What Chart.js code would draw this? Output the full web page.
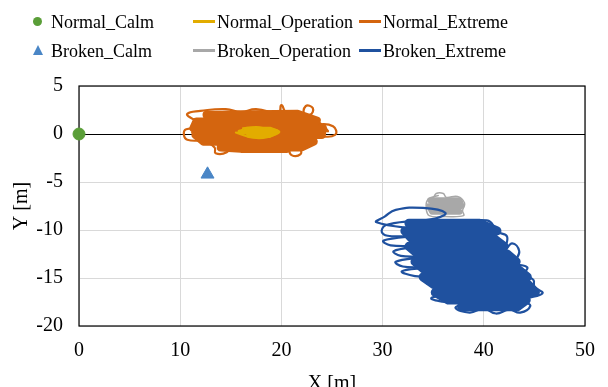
<!DOCTYPE html>
<html>
<head>
<meta charset="utf-8">
<script src="https://cdn.jsdelivr.net/npm/chart.js@4/dist/chart.umd.min.js"></script>
<style>
  html, body { margin: 0; padding: 0; background: #fff; overflow: hidden; }
  #wrap { position: relative; width: 608px; height: 387px; overflow: hidden; }
  #myChart { position: absolute; left: 0; top: 0; }
  .lg { position: absolute; font-family: 'Liberation Serif', 'Times New Roman', serif; font-size: 18px; color: #000; line-height: 1; transform: translateY(-50%); white-space: nowrap; }
  .mk { position: absolute; }
</style>
</head>
<body>
<div id="wrap">
  <canvas id="myChart" width="608" height="400"></canvas>
  <div id="legend"></div>
</div>
<script>
// series names / legend
const seriesNames = ['Normal_Calm', 'Normal_Operation', 'Normal_Extreme', 'Broken_Calm', 'Broken_Operation', 'Broken_Extreme'];
const xTicks = [0, 10, 20, 30, 40, 50];
const yTicks = [-20, -15, -10, -5, 0, 5];

// calm positions (single points)
const normalCalm = [[0, 0]];
const brokenCalm = [[12.7, -4.2]];

// Normal_Operation track (small yellow cluster)
const normalOpCore = [[15.9,0.2],[19.5,0.25],[18.9,0.5],[16.6,0.5],[16.8,-0.15],[18.8,-0.15],[19.3,0.1],[16.1,0.25]];
const normalOpLoops = [[16.2,0.6],[17.5,0.72],[18.4,0.58],[19.8,0.25],[18.6,-0.35],[17.2,-0.4],[15.5,0.15]];

// Normal_Extreme track (orange)
const normalExtCore = [[12.6,2.0],[21.6,2.1],[23.5,1.4],[11.6,1.3],[11.3,0.6],[24.1,0.6],[24.0,-0.1],[11.5,-0.1],
  [12.3,-0.8],[23.2,-0.8],[22.0,-1.4],[14.0,-1.4],[16.0,-1.55],[20.5,-1.55]];
const normalExtLoops = [[14.0,0.5],[10.6,0.5],[10.7,-0.6],[13.0,-0.3],[11.2,0.2],[12.4,-0.7],[13.4,-1.4],
  [13.5,-2.0],[14.6,-1.9],[15.0,-1.2],[18.0,-1.7],[20.5,-1.3],[21.0,-2.2],[21.9,-2.1],[22.0,-1.3],[23.5,-0.4],
  [25.3,-0.1],[25.1,0.8],[23.6,0.9],[24.6,0.3],[23.2,1.6],[22.3,1.9],[22.4,2.9],[23.1,2.7],[22.8,2.0],[20.6,2.1],
  [20.0,3.0],[19.7,2.2],[17.5,2.6],[16.0,2.3],[14.5,2.6],[12.0,2.4],[10.7,2.1],[11.2,1.6],[13.0,1.0]];

// Broken_Operation track (grey)
const brokenOpCore = [[34.7,-6.9],[37.6,-6.9],[37.8,-7.5],[34.6,-7.5],[34.9,-8.1],[37.6,-8.1]];
const brokenOpLoops = [[35.0,-6.7],[35.3,-6.2],[36.0,-6.2],[36.3,-6.6],[37.4,-6.5],[38.1,-7.2],[37.9,-8.0],
  [38.0,-8.5],[36.2,-8.6],[34.6,-8.5],[34.3,-7.6],[34.5,-6.8],[35.5,-6.4]];

// Broken_Extreme track (blue)
const brokenExtCore = [[32.6,-9.3],[39.6,-9.3],[41.3,-10.1],[32.2,-10.1],[32.9,-10.9],[41.0,-10.9],[42.0,-11.7],
  [32.6,-11.7],[33.5,-12.5],[42.3,-12.5],[43.2,-13.3],[33.2,-13.3],[34.1,-14.1],[43.4,-14.1],[44.3,-14.9],
  [34.0,-14.9],[35.1,-15.7],[44.4,-15.7],[45.1,-16.5],[35.2,-16.5],[36.5,-17.3],[44.2,-17.3],[43.3,-18.0],[37.8,-18.0]];
const brokenExtLoops = [[34.0,-10.0],[29.4,-9.2],[30.2,-8.6],[31.3,-7.9],[34.0,-7.7],[36.2,-8.2],[35.2,-8.8],
  [30.6,-9.4],[29.9,-10.1],[30.5,-10.6],[33.2,-10.6],[30.1,-11.1],[30.8,-11.6],[33.5,-11.7],[31.1,-12.2],[31.8,-12.7],
  [33.9,-12.8],[31.3,-13.3],[32.0,-13.8],[34.2,-13.9],[31.9,-14.3],[33.2,-14.8],[35.2,-14.9],[34.3,-15.5],
  [35.6,-15.9],[35.2,-16.3],[36.6,-16.6],[34.8,-17.1],[36.2,-17.5],[38.2,-17.6],[37.2,-18.1],[38.6,-18.6],
  [40.0,-18.2],[41.2,-18.7],[42.5,-18.3],[43.6,-18.6],[44.6,-17.9],[44.0,-17.3],[45.8,-16.6],[45.0,-15.9],
  [44.9,-15.2],[44.0,-14.6],[44.3,-13.9],[43.2,-13.4],[43.5,-12.2],[42.8,-11.4],[42.1,-12.1],[42.3,-10.7],
  [41.4,-10.2],[40.3,-9.0],[36.0,-9.6]];

const colors = {
  normalCalm: '#5a9e38',
  brokenCalm: '#4a86c6',
  normalOp: '#e2ac00',
  normalExt: '#d4650f',
  brokenOp: '#a8a8a8',
  brokenExt: '#1f519f'
};

const pts = arr => arr.map(p => ({ x: p[0], y: p[1] }));

const track = (data, color, width, tension, order) => ({
  data: pts(data),
  showLine: true,
  borderColor: color,
  borderWidth: width,
  borderJoinStyle: 'round',
  borderCapStyle: 'round',
  tension: tension,
  pointRadius: 0,
  order: order
});

// legend drawn as html (3 columns x 2 rows)
const legend = document.getElementById('legend');
const legendItems = [
  { name: seriesNames[0], kind: 'circle', color: colors.normalCalm, x: 33, y: 21 },
  { name: seriesNames[1], kind: 'line', color: colors.normalOp, x: 193, y: 21 },
  { name: seriesNames[2], kind: 'line', color: colors.normalExt, x: 359, y: 21 },
  { name: seriesNames[3], kind: 'tri', color: colors.brokenCalm, x: 33, y: 50 },
  { name: seriesNames[4], kind: 'line', color: colors.brokenOp, x: 193, y: 50 },
  { name: seriesNames[5], kind: 'line', color: colors.brokenExt, x: 359, y: 50 }
];
legendItems.forEach(it => {
  const m = document.createElement('div');
  m.className = 'mk';
  let textX;
  if (it.kind === 'circle') {
    Object.assign(m.style, { left: it.x + 'px', top: (it.y - 4) + 'px', width: '9px', height: '9px', borderRadius: '50%', background: it.color });
    textX = 51;
  } else if (it.kind === 'tri') {
    Object.assign(m.style, { left: it.x + 'px', top: (it.y - 5) + 'px', width: 0, height: 0,
      borderLeft: '5px solid transparent', borderRight: '5px solid transparent', borderBottom: '10px solid ' + it.color });
    textX = 51;
  } else {
    Object.assign(m.style, { left: it.x + 'px', top: (it.y - 1) + 'px', width: '22px', height: '2.5px', background: it.color });
    textX = it.x + 24;
  }
  legend.appendChild(m);
  const t = document.createElement('div');
  t.className = 'lg';
  t.style.left = textX + 'px';
  t.style.top = (it.y + 1) + 'px';
  t.textContent = it.name;
  legend.appendChild(t);
});

const boxPlugin = {
  id: 'box',
  beforeDatasetsDraw(chart) {
    const { ctx, chartArea: a } = chart;
    ctx.save();
    ctx.strokeStyle = '#000';
    ctx.lineWidth = 1.2;
    ctx.strokeRect(a.left, a.top, a.right - a.left, a.bottom - a.top);
    ctx.restore();
  }
};

Chart.defaults.font.family = "'Liberation Serif', 'Times New Roman', serif";
Chart.defaults.font.size = 20;
Chart.defaults.color = '#000';

const ctx = document.getElementById('myChart');

new Chart(ctx, {
  type: 'scatter',
  data: {
    datasets: [
      { label: seriesNames[0], data: pts(normalCalm), pointStyle: 'circle', pointRadius: 6, backgroundColor: colors.normalCalm, borderColor: colors.normalCalm, clip: false, order: 0 },
      { label: seriesNames[3], data: pts(brokenCalm), pointStyle: 'triangle', pointRadius: 7.5, backgroundColor: colors.brokenCalm, borderColor: colors.brokenCalm, clip: false, order: 0 },
      track(normalOpCore, colors.normalOp, 5, 0, 1),
      track(normalOpLoops, colors.normalOp, 2, 0.4, 1),
      track(brokenExtCore, colors.brokenExt, 9, 0, 1),
      track(brokenExtLoops, colors.brokenExt, 2.2, 0.45, 1),
      track(normalExtCore, colors.normalExt, 8, 0, 2),
      track(normalExtLoops, colors.normalExt, 2.2, 0.5, 2),
      track(brokenOpCore, colors.brokenOp, 6, 0, 2),
      track(brokenOpLoops, colors.brokenOp, 1.5, 0.4, 2)
    ]
  },
  options: {
    responsive: false,
    animation: false,
    layout: { padding: { top: 86, right: 13, left: 0, bottom: 0 } },
    plugins: {
      legend: { display: false },
      tooltip: { enabled: false }
    },
    scales: {
      x: {
        min: 0, max: 50,
        afterBuildTicks: s => { s.ticks = xTicks.map(v => ({ value: v })); },
        afterFit: s => { s.height = 74; },
        ticks: { padding: 13, maxRotation: 0 },
        grid: { color: '#d9d9d9', lineWidth: 1, drawTicks: false },
        border: { display: false },
        title: { display: true, text: 'X [m]', padding: { top: 0, bottom: 4 } }
      },
      y: {
        min: -20, max: 5,
        afterBuildTicks: s => { s.ticks = yTicks.map(v => ({ value: v })); },
        afterFit: s => { s.width = 79; },
        ticks: { padding: 16 },
        grid: {
          color: c => (c.tick && c.tick.value === 0) ? '#000' : '#d9d9d9',
          lineWidth: 1,
          drawTicks: false
        },
        border: { display: false },
        title: { display: true, text: 'Y [m]', padding: { top: 10, bottom: 0 } }
      }
    }
  },
  plugins: [boxPlugin]
});
</script>
</body>
</html>
